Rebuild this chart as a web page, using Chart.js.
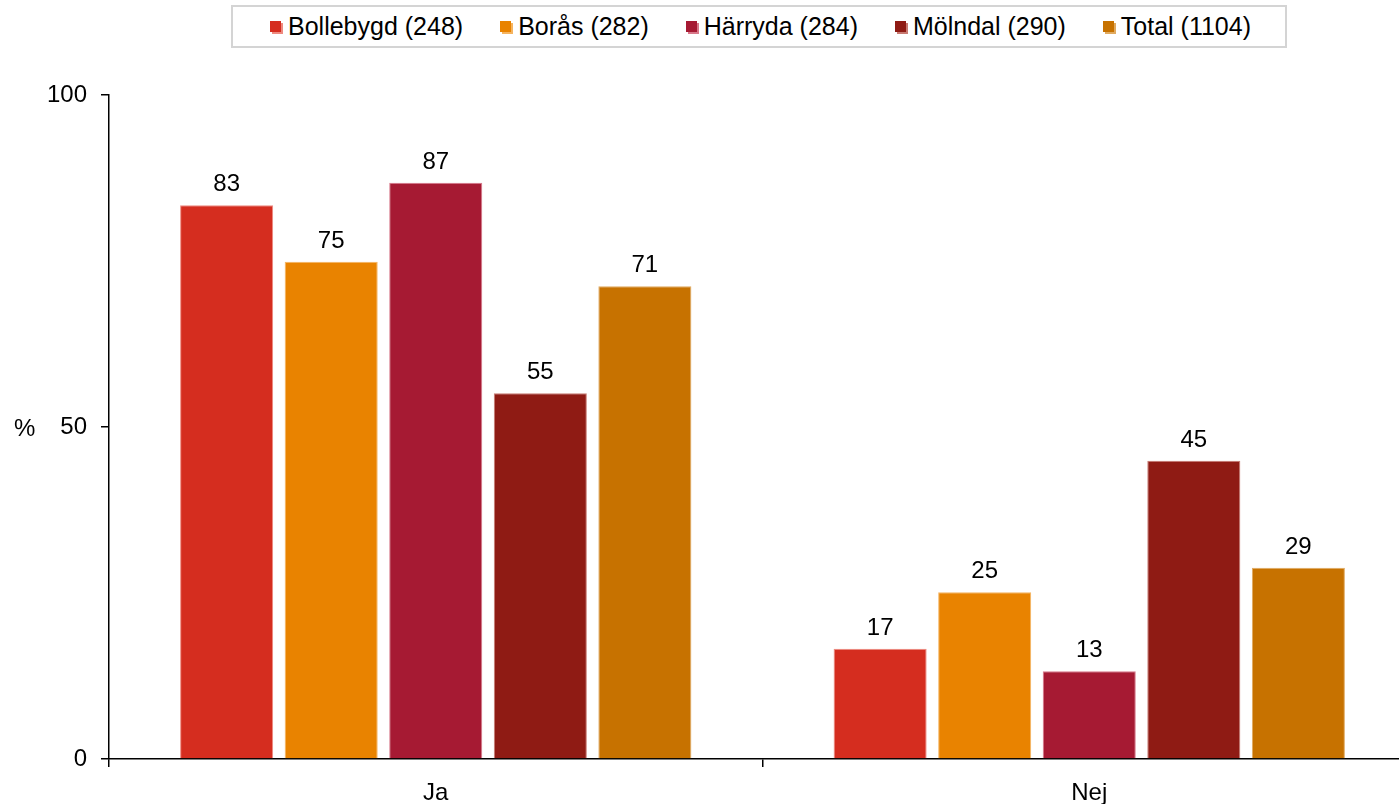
<!DOCTYPE html>
<html>
<head>
<meta charset="utf-8">
<script src="https://cdn.jsdelivr.net/npm/chart.js@4/dist/chart.umd.min.js"></script>
<style>
  body { margin: 0; background: #fff; overflow: hidden; }
  #wrap { position: relative; width: 1399px; height: 804px; overflow: hidden; }
  #legend {
    position: absolute; left: 231px; top: 5px; width: 1056px; height: 43px;
    border: 2px solid #d4d4d4; background: #fff;
    display: flex; align-items: center; box-sizing: border-box; padding-left: 37px;
    font-family: "Liberation Sans", Arial, sans-serif; font-size: 25px; color: #000;
    white-space: nowrap;
  }
  .item { display: flex; align-items: center; margin-right: 37px; flex-shrink: 0; }
  .mark { width: 11px; height: 11px; margin-right: 7px; flex-shrink: 0; }
</style>
</head>
<body>
<div id="wrap">
  <canvas id="myChart" width="1416" height="804"></canvas>
  <div id="legend"></div>
</div>
<script>
var categories = ['Ja', 'Nej'];
var seriesNames = ['Bollebygd (248)', 'Borås (282)', 'Härryda (284)', 'Mölndal (290)', 'Total (1104)'];
var bollebygd = [83.4, 16.6];
var boras = [74.9, 25.1];
var harryda = [86.8, 13.2];
var molndal = [55.1, 44.9];
var total = [71.2, 28.8];
var yTicks = [0, 50, 100];

var colors = ['#d52d1f', '#e98300', '#a61a33', '#8f1b14', '#c77200'];
var edges = ['#ee8a80', '#f5b460', '#d8788a', '#c87a72', '#e0aa60'];

var values = [bollebygd, boras, harryda, molndal, total];

var datasets = [];
for (var i = 0; i < values.length; i++) {
    datasets.push({
        label: seriesNames[i],
        data: values[i],
        backgroundColor: colors[i],
        borderColor: edges[i],
        borderWidth: 1,
        categoryPercentage: 0.8,
        barPercentage: 0.89
    });
}

// legend as html, built from the same names and colours
var legend = document.getElementById('legend');
for (var i = 0; i < seriesNames.length; i++) {
    var item = document.createElement('div');
    item.className = 'item';
    var mark = document.createElement('div');
    mark.className = 'mark';
    mark.style.background = colors[i];
    mark.style.boxShadow = '2px 2px 0 ' + edges[i];
    var txt = document.createElement('span');
    txt.textContent = seriesNames[i];
    item.appendChild(mark);
    item.appendChild(txt);
    legend.appendChild(item);
}

var font = "'Liberation Sans', Arial, sans-serif";

var labelsPlugin = {
    id: 'valueLabels',
    afterDatasetsDraw: function (chart) {
        var ctx = chart.ctx;
        ctx.save();
        ctx.font = '24px ' + font;
        ctx.fillStyle = '#000';
        ctx.textAlign = 'center';
        ctx.textBaseline = 'alphabetic';
        chart.data.datasets.forEach(function (ds, di) {
            chart.getDatasetMeta(di).data.forEach(function (bar, j) {
                ctx.fillText(Math.round(ds.data[j]), bar.x, bar.y - 14);
            });
        });
        // "%" unit beside the y axis
        var y = chart.scales.y;
        ctx.textAlign = 'left';
        ctx.fillText('%', 14, y.getPixelForValue(50) + 9);
        ctx.restore();
    }
};

var chart = new Chart(document.getElementById('myChart'), {
    type: 'bar',
    data: { labels: categories, datasets: datasets },
    plugins: [labelsPlugin],
    options: {
        responsive: false,
        devicePixelRatio: 1,
        animation: false,
        layout: { padding: { top: 95, left: 0, right: 0, bottom: 0 } },
        plugins: { legend: { display: false }, tooltip: { enabled: false } },
        scales: {
            x: {
                grid: { offset: true, drawOnChartArea: false, color: '#000', tickLength: 8, lineWidth: 1.5 },
                border: { color: '#000', width: 1.5 },
                ticks: { color: '#000', font: { family: font, size: 24 }, padding: 12 },
                afterFit: function (s) { s.height = 45; }
            },
            y: {
                min: 0,
                max: 100,
                afterBuildTicks: function (s) { s.ticks = yTicks.map(function (v) { return { value: v }; }); },
                grid: { drawOnChartArea: false, color: '#000', tickLength: 8, lineWidth: 1.5 },
                border: { color: '#000', width: 1.5 },
                ticks: { color: '#000', font: { family: font, size: 24 }, padding: 14 },
                afterFit: function (s) { s.width = 109; }
            }
        }
    }
});
</script>
</body>
</html>
